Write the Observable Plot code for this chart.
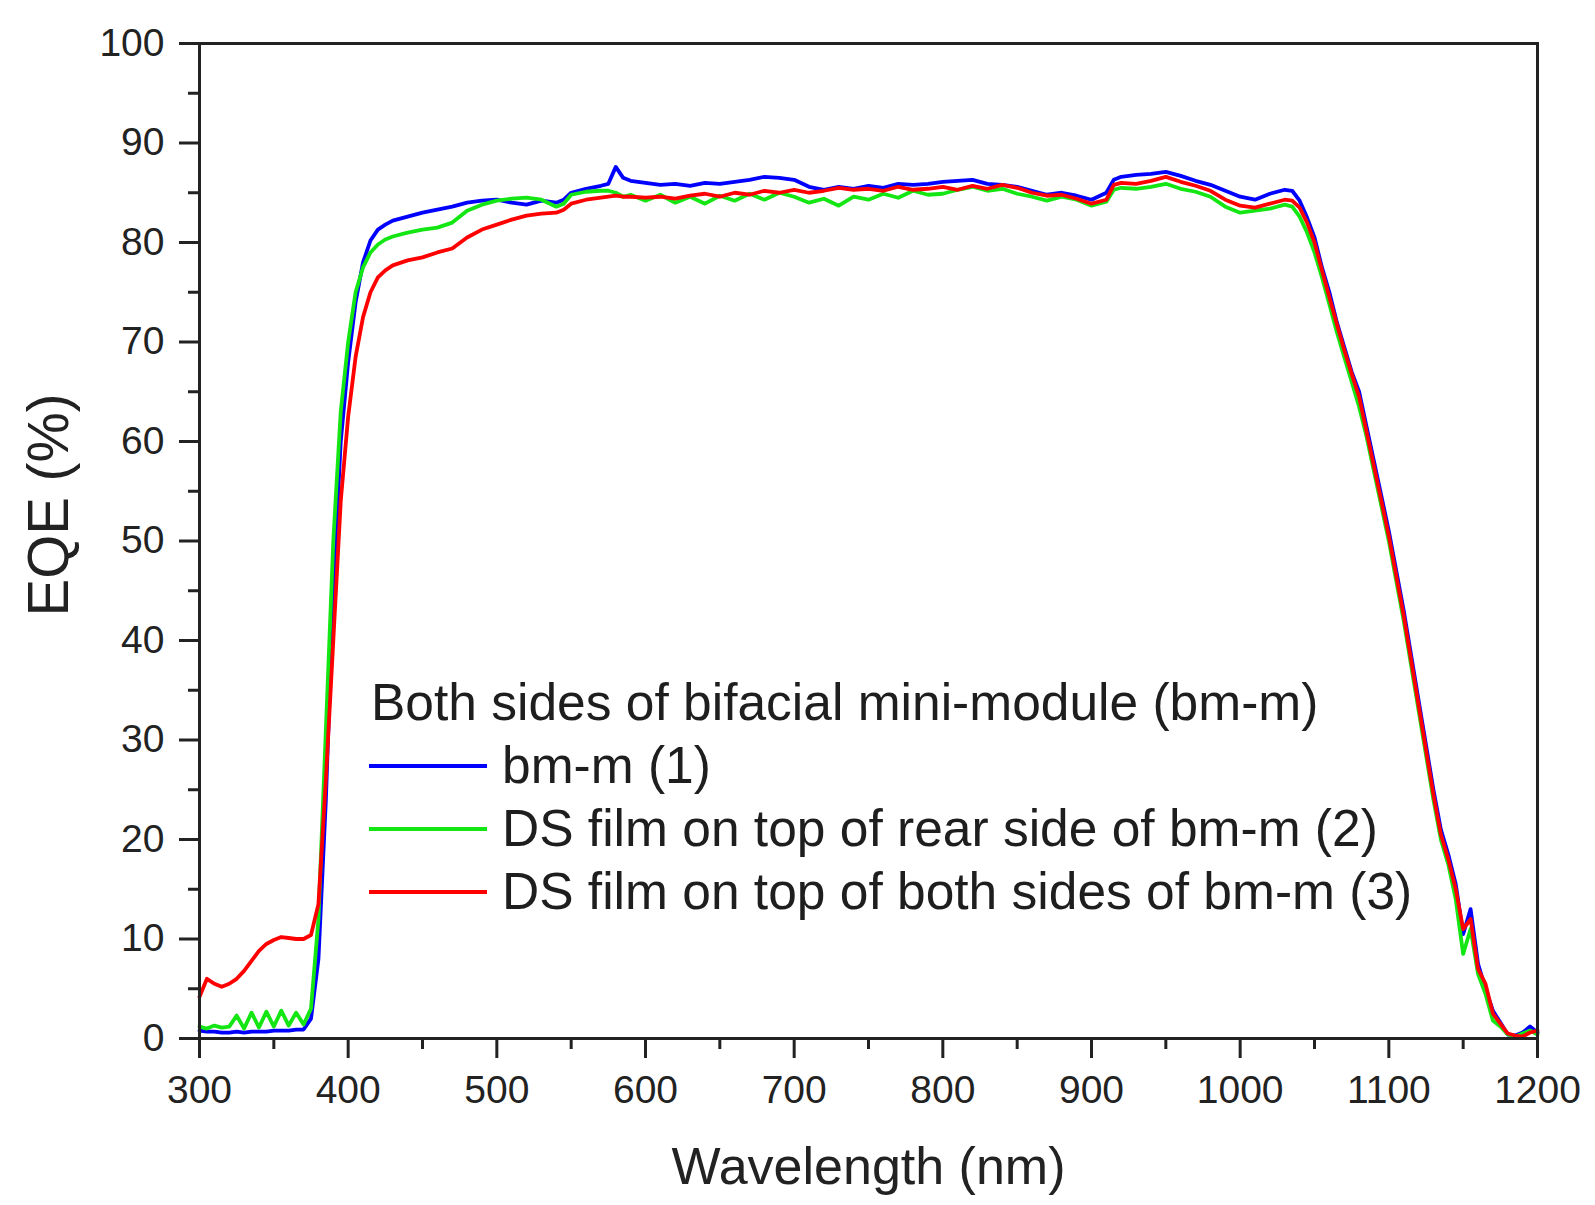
<!DOCTYPE html>
<html>
<head>
<meta charset="utf-8">
<script src="https://cdn.jsdelivr.net/npm/d3@7"></script>
<script src="https://cdn.jsdelivr.net/npm/@observablehq/plot@0.6"></script>
<style>
  html, body { margin: 0; padding: 0; background: #fff; }
  #wrap { position: relative; width: 1595px; height: 1205px; font-family: "Liberation Sans", Arial, sans-serif; }
  #legend { position: absolute; left: 369px; top: 671px; font-size: 51.5px; line-height: 63px; color: #1e1e1e; }
  #legend .row { display: flex; align-items: center; height: 63px; white-space: nowrap; }
  #legend .sw { width: 118px; height: 4px; margin-right: 15px; }
  #legend .title { padding-left: 2px; }
</style>
</head>
<body>
<div id="wrap"></div>
<script>
// Wavelength grid (nm)
const wl = [
  300,305,310,315,320,325,330,335,340,345,350,355,360,365,370,375,
  380,385,390,395,400,405,410,415,420,425,
  430,440,450,460,470,480,490,500,510,520,530,540,545,550,560,570,575,580,585,590,
  600,610,620,630,640,650,660,670,680,690,700,710,720,730,740,750,760,770,780,790,
  800,810,820,830,840,850,860,870,880,890,900,910,915,920,930,940,950,960,970,980,
  990,1000,1010,1020,1030,1035,1040,1045,1050,1055,1060,1065,1070,1075,1080,1085,1090,1095,1100,1105,
  1110,1115,1120,1125,1130,1135,1140,1145,1150,1155,1160,1165,1170,1175,1180,1185,1190,1195,1200
];
// EQE (%) series
const bm1 = [
  0.8,0.7,0.7,0.6,0.6,0.7,0.6,0.7,0.7,0.7,0.8,0.8,0.8,0.9,0.9,2.0,
  8,24,45,60,68,74,78,80.2,81.3,81.8,
  82.2,82.6,83,83.3,83.6,84,84.2,84.3,84,83.8,84.2,84,84.3,85,85.4,85.7,85.9,87.6,86.5,86.2,
  86,85.8,85.9,85.7,86,85.9,86.1,86.3,86.6,86.5,86.3,85.6,85.3,85.6,85.4,85.7,85.5,85.9,85.8,85.9,
  86.1,86.2,86.3,85.9,85.8,85.6,85.2,84.8,85,84.7,84.3,85,86.3,86.6,86.8,86.9,87.1,86.7,86.2,85.8,
  85.2,84.6,84.3,84.9,85.3,85.2,84.2,82.5,80.5,77.5,75,72,69.5,67,65,61.5,58,54.5,51,47,
  43,38.5,34,29.5,25,21,18.5,15.5,10.5,13,7.5,5,2.8,1.6,0.4,0.3,0.6,1.2,0.6
];
const ds2 = [
  1.2,1.0,1.3,1.1,1.2,2.3,1.0,2.6,1.1,2.7,1.2,2.8,1.3,2.6,1.4,3.0,
  12,31,50,63,70,75,77.5,79,79.8,80.3,
  80.6,81,81.3,81.5,82,83.2,83.8,84.2,84.4,84.5,84.3,83.6,83.9,84.8,85.1,85.2,85.2,85,84.6,84.8,
  84.2,84.8,84,84.6,83.9,84.7,84.2,84.9,84.3,85,84.6,84,84.4,83.7,84.6,84.3,84.9,84.5,85.2,84.8,
  84.9,85.3,85.6,85.2,85.4,84.9,84.6,84.2,84.6,84.3,83.7,84.1,85.3,85.5,85.4,85.6,85.9,85.4,85.1,84.6,
  83.6,83,83.2,83.4,83.8,83.6,82.6,81,79,76.5,73.8,71,68.5,66,63.5,60.5,57,53.5,50,46,
  42,37.5,33,28.5,24,20,17.5,14,8.5,11,6.5,4.5,1.8,1.2,0.4,0.2,0.5,0.8,0.4
];
const ds3 = [
  4.2,6,5.5,5.2,5.5,6,6.8,7.8,8.8,9.5,9.9,10.2,10.1,10,10,10.4,
  13.5,26,40,54,62.5,68.5,72.5,75,76.5,77.2,
  77.7,78.2,78.5,79,79.4,80.5,81.3,81.8,82.3,82.7,82.9,83,83.3,83.9,84.3,84.5,84.6,84.7,84.6,84.6,
  84.5,84.6,84.4,84.7,84.9,84.6,85,84.8,85.2,85,85.3,85,85.2,85.5,85.3,85.4,85.2,85.6,85.3,85.4,
  85.6,85.3,85.7,85.4,85.8,85.5,85,84.7,84.8,84.4,83.9,84.3,85.8,86,85.9,86.2,86.6,86.1,85.7,85.2,
  84.3,83.7,83.5,83.9,84.3,84.2,83.5,82,80,77.2,74.5,71.8,69.2,66.8,64.5,61,57.5,54,50.5,46.5,
  42.5,38,33.5,29,24.5,20.5,18,15,11,12,7,5.5,2.5,1.5,0.5,0.3,0.2,0.6,0.8
];
const seriesNames = [
  "bm-m (1)",
  "DS film on top of rear side of bm-m (2)",
  "DS film on top of both sides of bm-m (3)"
];
const seriesColors = ["#0000ff", "#14e614", "#ff0000"];
const legendTitle = "Both sides of bifacial mini-module (bm-m)";
const xLabel = "Wavelength (nm)";
const yLabel = "EQE (%)";
const xMajorTicks = [300,400,500,600,700,800,900,1000,1100,1200];
const xMinorTicks = [350,450,550,650,750,850,950,1050,1150];
const yMajorTicks = [0,10,20,30,40,50,60,70,80,90,100];
const yMinorTicks = [5,15,25,35,45,55,65,75,85,95];

const allSeries = [bm1, ds2, ds3];
const rows = [];
allSeries.forEach((vals, i) => {
  vals.forEach((v, j) => rows.push({s: seriesNames[i], wl: wl[j], v}));
});

const axisColor = "#222";
const chart = Plot.plot({
  width: 1595,
  height: 1205,
  marginLeft: 199,
  marginRight: 58,
  marginTop: 43,
  marginBottom: 167,
  style: {fontFamily: "'Liberation Sans', Arial, sans-serif", color: axisColor, background: "#fff"},
  x: {domain: [300, 1200]},
  y: {domain: [0, 100]},
  color: {domain: seriesNames, range: seriesColors},
  marks: [
    Plot.line(rows, {x: "wl", y: "v", z: "s", stroke: "s", strokeWidth: 3.8, strokeLinejoin: "round"}),
    Plot.frame({stroke: axisColor, strokeWidth: 3}),
    Plot.axisX({ticks: xMajorTicks, tickSize: 20, tickPadding: 17, tickFormat: d => String(d), fontSize: 39, strokeWidth: 3, stroke: axisColor, label: null}),
    Plot.axisX({ticks: xMinorTicks, tickSize: 11, strokeWidth: 3, stroke: axisColor, text: null, label: null}),
    Plot.axisX({ticks: [], tickSize: 0, label: xLabel, labelAnchor: "center", labelArrow: "none", labelOffset: 145, fontSize: 52}),
    Plot.axisY({ticks: yMajorTicks, tickSize: 20, tickPadding: 15, tickFormat: d => String(d), fontSize: 39, strokeWidth: 3, stroke: axisColor, label: null}),
    Plot.axisY({ticks: yMinorTicks, tickSize: 11, strokeWidth: 3, stroke: axisColor, text: null, label: null}),
    Plot.text([yLabel], {text: d => d, frameAnchor: "left", textAnchor: "middle", rotate: -90, dx: -150, dy: -36, fontSize: 56.5, fill: axisColor})
  ]
});

const wrap = document.getElementById("wrap");
wrap.appendChild(chart);

const legend = document.createElement("div");
legend.id = "legend";
const t = document.createElement("div");
t.className = "row title";
t.textContent = legendTitle;
legend.appendChild(t);
seriesNames.forEach((name, i) => {
  const r = document.createElement("div");
  r.className = "row";
  const sw = document.createElement("div");
  sw.className = "sw";
  sw.style.background = seriesColors[i];
  const lab = document.createElement("span");
  lab.textContent = name;
  r.appendChild(sw);
  r.appendChild(lab);
  legend.appendChild(r);
});
wrap.appendChild(legend);
</script>
</body>
</html>
